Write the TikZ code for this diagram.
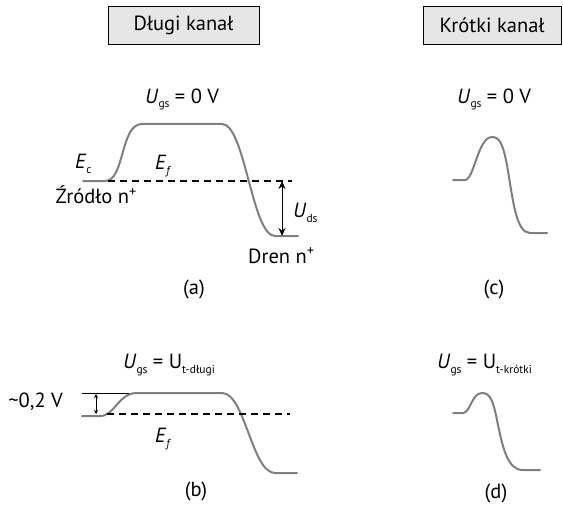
\documentclass[tikz,border=0pt]{standalone}
\usepackage{fontspec}
\setmainfont{PT Sans}
\usepackage{tikz}
\usetikzlibrary{arrows.meta}
\definecolor{bandgray}{HTML}{7F7F7F}
\definecolor{boxgray}{HTML}{E6E6E6}
\newcommand{\lo}[1]{\raisebox{-5pt}{\fontsize{11.5}{12}\selectfont #1}}

\begin{document}
\begin{tikzpicture}[x=1pt,y=-1pt,
    band/.style={bandgray, line width=2pt, line cap=round},
    fermi/.style={black, line width=1.4pt, dash pattern=on 7pt off 5pt},
    kanal/.style={draw=black, fill=boxgray, line width=0.9pt, minimum height=38pt, inner sep=0pt},
    txt/.style={inner sep=0pt, font=\fontsize{20.5}{24}\selectfont}]
  \useasboundingbox (0,0) rectangle (563,511);

  % Naglowki
  \node[kanal, txt, minimum width=151pt] (dlugi) at (183.5,25) {Długi kanał};
  \node[kanal, txt, minimum width=138pt] (krotki) at (492,25) {Krótki kanał};

  % (a) dlugi kanal, Ugs = 0
  \node[txt, anchor=base west] (ugs-a) at (145,103) {\textit{U}\lo{gs} = 0 V};
  \draw[band] (83,181) -- (105,181) .. controls (125,181) and (120,124) .. (142,124)
    -- (222,124) .. controls (245,124) and (252,236) .. (275,236) -- (298,236);
  \draw[fermi] (108,181) -- (292,181);
  \coordinate (ef-a) at (282,181);
  \coordinate (dren-a) at (282,236);
  \draw[{Stealth[length=8pt,width=7pt]}-{Stealth[length=8pt,width=7pt]}, line width=1pt] (ef-a) -- (dren-a);
  \node[txt, anchor=base west] (uds) at (293,217) {\textit{U}\lo{ds}};
  \node[txt, anchor=base west] (ec) at (75,168) {\textit{E}\lo{c}};
  \node[txt, anchor=base west] (ef) at (155,169) {\textit{E}\lo{\textit{f}}};
  \node[txt, anchor=base east] (zrodlo) at (137,204) {Źródło n\textsuperscript{+}};
  \node[txt, anchor=base west] (dren) at (248,263) {Dren n\textsuperscript{+}};
  \node[txt] (lab-a) at (194,289) {(a)};

  % (c) krotki kanal, Ugs = 0
  \node[txt, anchor=base west] (ugs-c) at (457,103) {\textit{U}\lo{gs} = 0 V};
  \draw[band] (453,180) -- (465,180) .. controls (474,180) and (478,137) .. (492,137)
    .. controls (500,137) and (503,145) .. (507,165) .. controls (513,200) and (516,233) .. (530,233) -- (547,233);
  \node[txt] (lab-c) at (494,289) {(c)};

  % (b) dlugi kanal, Ugs = Ut
  \node[txt, anchor=base west] (ugs-b) at (123,368) {\textit{U}\lo{gs} = U\lo{t-długi}};
  \draw[line width=1pt] (82,393) -- (130,393);
  \draw[band] (82,416) -- (100,416) .. controls (115,416) and (118,393) .. (137,393)
    -- (222,393) .. controls (245,393) and (252,473) .. (275,473) -- (297,473);
  \draw[fermi] (107,414) -- (290,414);
  \coordinate (gora-b) at (96,394);
  \coordinate (dol-b) at (96,414);
  \draw[{Stealth[length=4pt,width=4pt]}-{Stealth[length=4pt,width=4pt]}, line width=0.8pt] (gora-b) -- (dol-b);
  \node[txt, anchor=base east] (bar) at (63,407) {\textasciitilde0,2 V};
  \node[txt, anchor=base west] (ef-b) at (155,442) {\textit{E}\lo{\textit{f}}};
  \node[txt] (lab-b) at (196,491) {(b)};

  % (d) krotki kanal, Ugs = Ut
  \node[txt, anchor=base west] (ugs-d) at (437,368) {\textit{U}\lo{gs} = U\lo{t-krótki}};
  \draw[band] (453,413) -- (463,413) .. controls (470,413) and (472,393) .. (482,393)
    .. controls (490,393) and (493,400) .. (497,420) .. controls (503,450) and (508,470) .. (523,470) -- (540,470);
  \node[txt] (lab-d) at (496,493) {(d)};
\end{tikzpicture}
\end{document}
